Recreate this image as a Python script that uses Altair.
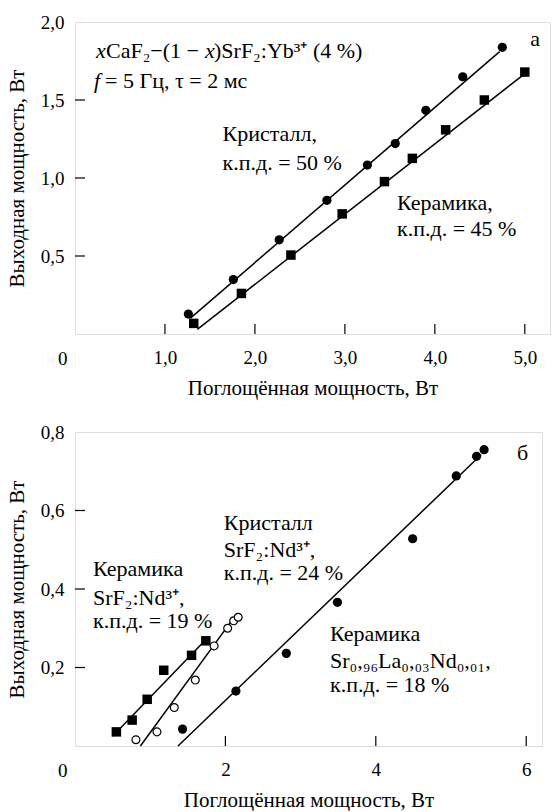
import altair as alt
import pandas as pd

FONT = "Times New Roman, Liberation Serif, serif"
FS = 19      # tick labels
FT = 21      # axis titles
FA = 22      # annotations

# ---------------- Panel а ----------------
a_cr_x = [1.26, 1.76, 2.27, 2.80, 3.25, 3.56, 3.90, 4.31, 4.75]
a_cr_y = [0.128, 0.349, 0.604, 0.857, 1.083, 1.221, 1.434, 1.649, 1.838]
a_ce_x = [1.32, 1.85, 2.40, 2.97, 3.44, 3.75, 4.12, 4.55, 5.00]
a_ce_y = [0.068, 0.260, 0.506, 0.770, 0.977, 1.126, 1.309, 1.500, 1.679]
a_fit_cr_x = [1.28, 4.72]
a_fit_cr_y = [0.10, 1.81]
a_fit_ce_x = [1.36, 4.98]
a_fit_ce_y = [0.03, 1.66]
a_xticks = [1, 2, 3, 4, 5]
a_yticks = [0.5, 1.0, 1.5]
a_xlabels = [0, 1, 2, 3, 4, 5]
a_ylabels = [0, 0.5, 1.0, 1.5, 2.0]

# ---------------- Panel б ----------------
b_cs_x = [0.55, 0.76, 0.96, 1.18, 1.55, 1.74]
b_cs_y = [0.036, 0.066, 0.119, 0.193, 0.231, 0.268]
b_cr_x = [0.81, 1.09, 1.32, 1.60, 1.85, 2.03, 2.11, 2.17]
b_cr_y = [0.016, 0.036, 0.098, 0.168, 0.255, 0.300, 0.319, 0.328]
b_cl_x = [1.43, 2.14, 2.81, 3.49, 4.49, 5.07, 5.34, 5.44]
b_cl_y = [0.043, 0.140, 0.236, 0.366, 0.528, 0.688, 0.738, 0.755]
b_fit_cs_x = [0.50, 1.76]
b_fit_cs_y = [0.025, 0.275]
b_fit_cr_x = [0.87, 2.14]
b_fit_cr_y = [0.0, 0.334]
b_fit_cl_x = [1.37, 5.40]
b_fit_cl_y = [0.0, 0.742]
b_xticks = [2, 4, 6]
b_yticks = [0.2, 0.4, 0.6]
b_xlabels = [0, 2, 4, 6]
b_ylabels = [0, 0.2, 0.4, 0.6, 0.8]

XTITLE = "Поглощённая мощность, Вт"
YTITLE = "Выходная мощность, Вт"

FMT1 = "datum.value == 0 ? '' : replace(format(datum.value, '.1f'), '.', ',')"
FMT0 = "datum.value == 0 ? '' : format(datum.value, 'd')"


def make_enc(domain, values, expr, title, orient):
    common = dict(ticks=False, domain=False, grid=False, values=values,
                  labelExpr=expr, labelFont=FONT, labelFontSize=FS,
                  labelColor="black", title=title, titleFont=FONT,
                  titleFontSize=FT, titleFontWeight="normal", titleColor="black")
    if orient == "x":
        ax = alt.Axis(labelPadding=14, titlePadding=10, **common)
        return alt.X("x:Q", scale=alt.Scale(domain=domain, nice=False, zero=False), axis=ax)
    ax = alt.Axis(labelPadding=11, titlePadding=13, **common)
    return alt.Y("y:Q", scale=alt.Scale(domain=domain, nice=False, zero=False), axis=ax)


def txt(s, px, py, italic=False, align="left", size=FA):
    return alt.Chart(pd.DataFrame({"t": [s]})).mark_text(
        font=FONT, fontSize=size, align=align, baseline="middle", color="black",
        fontStyle="italic" if italic else "normal"
    ).encode(x=alt.value(px), y=alt.value(py), text="t:N")


def panel(W, H, xdom, ydom, xlab, ylab, xexpr, yexpr, xticks, yticks, fits, series, texts):
    X = make_enc(xdom, xlab, xexpr, XTITLE, "x")
    Y = make_enc(ydom, ylab, yexpr, YTITLE, "y")
    layers = []
    for fx, fy in fits:
        layers.append(alt.Chart(pd.DataFrame({"x": fx, "y": fy})).mark_line(
            color="black", strokeWidth=1.5).encode(x=X, y=Y))
    for sx, sy, kind in series:
        df = pd.DataFrame({"x": sx, "y": sy})
        if kind == "circle":
            m = alt.Chart(df).mark_point(shape="circle", filled=True, color="black", size=85, opacity=1)
        elif kind == "square":
            m = alt.Chart(df).mark_point(shape="square", filled=True, color="black", size=90, opacity=1)
        else:
            m = alt.Chart(df).mark_point(shape="circle", filled=True, fill="white", stroke="black",
                                         strokeWidth=1.2, size=62, opacity=1)
        layers.append(m.encode(x=X, y=Y))
    layers.append(alt.Chart(pd.DataFrame({"x": xticks})).mark_rule(color="black", strokeWidth=1.2)
                  .encode(x=X, y=alt.value(H), y2=alt.value(H - 10)))
    layers.append(alt.Chart(pd.DataFrame({"y": yticks})).mark_rule(color="black", strokeWidth=1.2)
                  .encode(y=Y, x=alt.value(0), x2=alt.value(10)))
    layers.append(txt("0", -17, H + 25, size=FS))
    layers.extend(texts)
    return alt.layer(*layers).properties(width=W, height=H)


W1, H1 = 475, 312
W2, H2 = 467, 314

top_texts = [
    txt("x", 21, 29, italic=True),
    txt("CaF₂−(1 −", 31, 29),
    txt("x", 130, 29, italic=True),
    txt(")SrF₂:Yb³⁺  (4 %)", 139, 29),
    txt("f", 19, 59, italic=True),
    txt("= 5 Гц, τ = 2 мс", 30, 59),
    txt("Кристалл,", 147.5, 112.4),
    txt("к.п.д. = 50 %", 147.5, 140.7),
    txt("Керамика,", 322, 180.6),
    txt("к.п.д. = 45 %", 322, 207),
    txt("а", 460, 17, align="center"),
]

bot_texts = [
    txt("Кристалл", 148.8, 90.7),
    txt("SrF₂:Nd³⁺,", 148.8, 118.3),
    txt("к.п.д. = 24 %", 148.8, 141.3),
    txt("Керамика", 18, 137.3),
    txt("SrF₂:Nd³⁺,", 18, 165.7),
    txt("к.п.д. = 19 %", 18, 189),
    txt("Керамика", 255, 201.7),
    txt("Sr₀,₉₆La₀,₀₃Nd₀,₀₁,", 255, 229),
    txt("к.п.д. = 18 %", 255, 253),
    txt("б", 447.5, 20.7, align="center"),
]

top = panel(W1, H1, [0, 5.28], [0, 2.0], a_xlabels, a_ylabels, FMT1, FMT1,
            a_xticks, a_yticks,
            [(a_fit_cr_x, a_fit_cr_y), (a_fit_ce_x, a_fit_ce_y)],
            [(a_cr_x, a_cr_y, "circle"), (a_ce_x, a_ce_y, "square")],
            top_texts)

bot = panel(W2, H2, [0, 6.21], [0, 0.8], b_xlabels, b_ylabels, FMT0, FMT1,
            b_xticks, b_yticks,
            [(b_fit_cs_x, b_fit_cs_y), (b_fit_cr_x, b_fit_cr_y), (b_fit_cl_x, b_fit_cl_y)],
            [(b_cs_x, b_cs_y, "square"), (b_cr_x, b_cr_y, "open"), (b_cl_x, b_cl_y, "circle")],
            bot_texts)

chart = alt.vconcat(top, bot, spacing=23).properties(
    padding={"left": 5, "top": 12, "right": 0, "bottom": 0}
).configure_view(stroke="black", strokeWidth=1.3).configure(background="white")

chart.save("out.html", embed_options={"renderer": "svg", "actions": False})
